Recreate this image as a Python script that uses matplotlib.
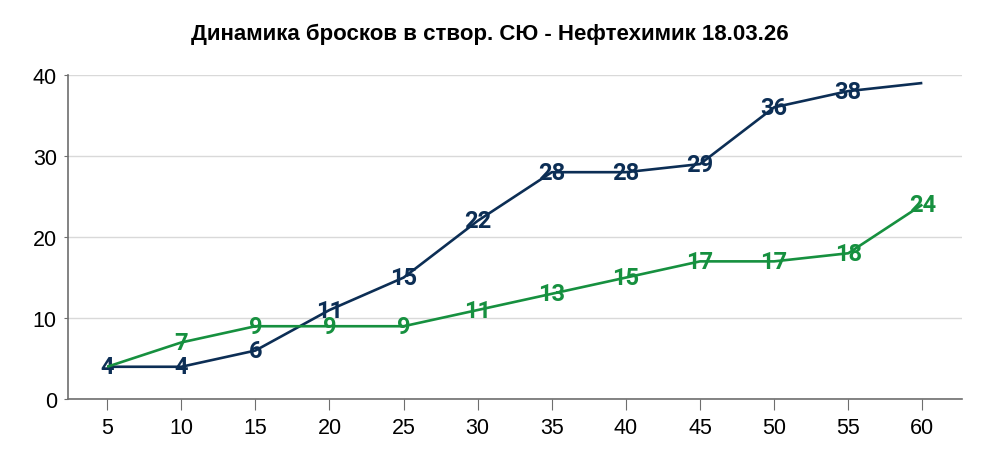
import matplotlib
matplotlib.use("Agg")
import matplotlib.pyplot as plt

# минуты и броски в створ (накопительно)
minutes = [5, 10, 15, 20, 25, 30, 35, 40, 45, 50, 55, 60]
shots_navy = [4, 4, 6, 11, 15, 22, 28, 28, 29, 36, 38, 39]
shots_green = [4, 7, 9, 9, 9, 11, 13, 15, 17, 17, 18, 24]
yticks = [0, 10, 20, 30, 40]

navy = "#0c2e55"
green = "#16903f"
axis_gray = "#6e6e6e"

plt.rcParams['font.family'] = ['Liberation Sans', 'DejaVu Sans']

fig = plt.figure(figsize=(9.84, 4.6), dpi=100)
ax = fig.add_axes([0.069, 0.13, 0.909, 0.705])

x = list(range(len(minutes)))
ax.plot(x, shots_navy, color=navy, lw=1.9, zorder=3, solid_capstyle='butt')
ax.plot(x, shots_green, color=green, lw=1.9, zorder=3, solid_capstyle='butt')

# подписи значений (последняя точка синей линии без подписи)
for i, v in enumerate(shots_navy[:-1]):
    ax.text(i, v, str(v), color=navy, fontsize=17, fontweight='bold',
            family='Roboto', ha='center', va='center', zorder=2)
for i, v in enumerate(shots_green):
    if i == 0:
        continue
    ax.text(i, v, str(v), color=green, fontsize=17, fontweight='bold',
            family='Roboto', ha='center', va='center', zorder=2)

ax.set_xlim(-0.53, 11.54)
ax.set_ylim(0, 40)
ax.set_xticks(x)
ax.set_xticklabels([str(m) for m in minutes])
ax.set_yticks(yticks)
ax.grid(axis='y', color='#d9d9d9', lw=1)
ax.set_axisbelow(True)
for s in ['top', 'right']:
    ax.spines[s].set_visible(False)
for s in ['left', 'bottom']:
    ax.spines[s].set_color(axis_gray)
    ax.spines[s].set_linewidth(1.2)
ax.tick_params(axis='both', colors=axis_gray, labelcolor='black', labelsize=15.5,
               direction='out')
ax.tick_params(axis='x', length=8, pad=5)
ax.tick_params(axis='y', length=3, pad=5)

fig.text(0.498, 0.925, "Динамика бросков в створ. СЮ - Нефтехимик 18.03.26",
         ha='center', va='center', fontsize=16, fontweight='bold')

fig.savefig("out.png", dpi=100)
